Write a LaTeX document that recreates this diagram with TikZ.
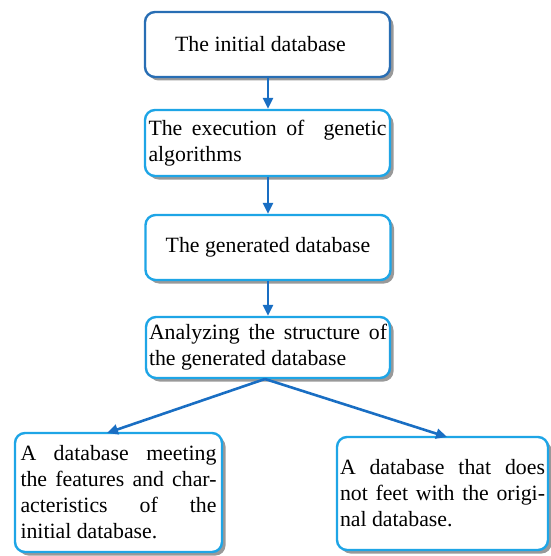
\documentclass[tikz,border=0pt]{standalone}
\usepackage{fontspec}
\setmainfont{Liberation Serif}
\usetikzlibrary{shadows,arrows.meta}
\definecolor{darkb}{RGB}{40,110,180}
\definecolor{lightb}{RGB}{30,165,230}
\definecolor{arrb}{RGB}{25,110,195}
\tikzset{
  box/.style={draw=lightb, line width=2.4pt, rounded corners=10pt, fill=white,
    drop shadow={shadow xshift=3.5pt, shadow yshift=-3.5pt, fill=black!40, opacity=1},
    inner sep=2pt, font=\fontsize{21.8}{26}\selectfont},
  topbox/.style={box, draw=darkb},
  conn/.style={draw=arrb, line width=2.6pt, -{Triangle[length=11pt,width=10pt]}},
}
\begin{document}
\begin{tikzpicture}[x=1pt,y=-1pt]
\useasboundingbox (0,0) rectangle (550,556);
\node[topbox, minimum width=245pt, minimum height=65pt] (b1) at (267.5,44.5) {\hspace*{-14pt}The initial database};
\node[box, minimum width=245pt, minimum height=66pt, text width=238pt, align=justify] (b2) at (267.5,143)
  {The execution of\ \ genetic\linebreak algorithms\par\vspace{5pt}};
\node[box, minimum width=245pt, minimum height=65pt] (b3) at (268,247.5) {The generated database};
\node[box, minimum width=244pt, minimum height=61pt, text width=238pt, align=justify] (b4) at (268,347.5)
  {Analyzing the structure of\linebreak the generated database\par\vspace{3pt}};
\node[box, minimum width=207pt, minimum height=119pt, text width=196pt, align=justify] (b5) at (118.5,492.5)
  {A database meeting\linebreak the features and char-\linebreak acteristics of the\linebreak initial database.};
\node[box, minimum width=211pt, minimum height=113pt, text width=205pt, align=justify] (b6) at (442.5,493.5)
  {A database that does\linebreak not feet with the origi-\linebreak nal database.\par\vspace{16pt}};
\coordinate (s) at (265,379);
\coordinate (t5) at (107,433);
\coordinate (t6) at (447,437);
\draw[conn] (b1.south -| 268,0) -- (b2.north -| 268,0);
\draw[conn] (b2.south -| 268,0) -- (b3.north -| 268,0);
\draw[conn] (b3.south -| 268,0) -- (b4.north -| 268,0);
\draw[conn] (s) -- (t5);
\draw[conn] (s) -- (t6);
\end{tikzpicture}
\end{document}
